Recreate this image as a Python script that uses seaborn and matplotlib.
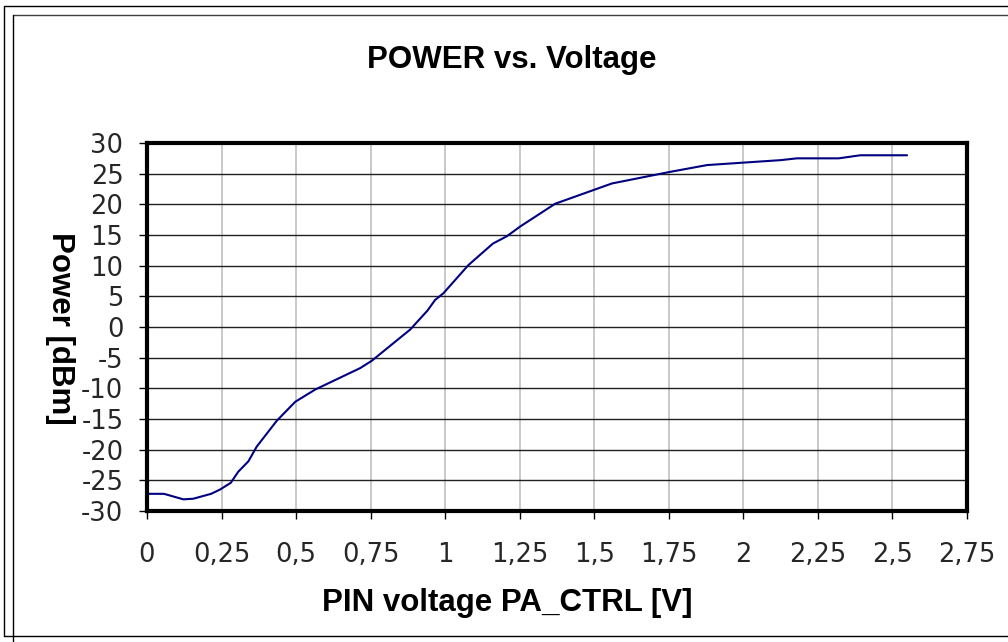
import matplotlib
matplotlib.use("Agg")
import matplotlib.pyplot as plt
import seaborn as sns
import pandas as pd
from matplotlib.lines import Line2D

# ---- data ----
voltage = [0, 0.057, 0.122, 0.155, 0.215, 0.245, 0.281, 0.306, 0.34, 0.368,
           0.435, 0.497, 0.564, 0.715, 0.754, 0.883, 0.941, 0.966, 0.994,
           1.078, 1.16, 1.207, 1.252, 1.369, 1.559, 1.755, 1.878, 2.0,
           2.124, 2.18, 2.32, 2.392, 2.549]
power = [-27.2, -27.2, -28.1, -28.0, -27.2, -26.5, -25.4, -23.6, -21.9, -19.5,
         -15.3, -12.2, -10.2, -6.7, -5.5, -0.4, 2.7, 4.4, 5.5,
         10.1, 13.6, 14.8, 16.4, 20.1, 23.4, 25.3, 26.4, 26.8,
         27.2, 27.5, 27.5, 28.0, 28.0]
x_ticks = [0, 0.25, 0.5, 0.75, 1.0, 1.25, 1.5, 1.75, 2.0, 2.25, 2.5, 2.75]
x_tick_labels = ["0", "0,25", "0,5", "0,75", "1", "1,25", "1,5", "1,75",
                 "2", "2,25", "2,5", "2,75"]
y_ticks = [-30, -25, -20, -15, -10, -5, 0, 5, 10, 15, 20, 25, 30]
title = "POWER vs. Voltage"
x_label = "PIN voltage PA_CTRL [V]"
y_label = "Power [dBm]"

df = pd.DataFrame({"voltage": voltage, "power": power})

sns.set_style("white")
plt.rcParams["font.family"] = ["DejaVu Sans"]

W, H = 1008, 642
fig = plt.figure(figsize=(W / 100, H / 100), dpi=100)
fig.patch.set_facecolor("white")

ax = fig.add_axes([147 / W, 1 - 511 / H, 820 / W, 368 / H])
sns.lineplot(data=df, x="voltage", y="power", ax=ax, color="#000080",
             linewidth=1.5, sort=False, estimator=None, zorder=5)

ax.set_xlim(0, 2.75)
ax.set_ylim(-30, 30)
ax.set_xticks(x_ticks)
ax.set_xticklabels(x_tick_labels)
ax.set_yticks(y_ticks)
ax.set_yticklabels([str(v) for v in y_ticks])

# gridlines
for xv in x_ticks[1:-1]:
    ax.axvline(xv, color="#c0c0c0", linewidth=1.2, zorder=1)
for yv in y_ticks[1:-1]:
    ax.axhline(yv, color="#202020", linewidth=1.0, zorder=2)

for s in ax.spines.values():
    s.set_visible(True)
    s.set_color("black")
    s.set_linewidth(3)
    s.set_zorder(6)

ax.tick_params(axis="both", which="both", direction="out", length=6,
               width=1, color="black", labelsize=18.5,
               bottom=True, left=True, top=False, right=False)
ax.tick_params(axis="x", pad=16.5)
ax.tick_params(axis="y", pad=11)
ax.set_xlabel("")
ax.set_ylabel("")

bold = dict(family="Liberation Sans", weight="bold", size=22.5, color="black")
fig.text(511.5 / W, 1 - 68 / H, title, ha="center", va="baseline", **bold)
fig.text(507.5 / W, 1 - 611 / H, x_label, ha="center", va="baseline", **bold)
fig.text(60 / W, 1 - 328 / H, y_label, ha="center", va="center",
         rotation=-90, **bold)

# outer frames
def fl(x0, y0, x1, y1, color="black", lw=1.0):
    fig.add_artist(Line2D([x0 / W, x1 / W], [1 - y0 / H, 1 - y1 / H],
                          transform=fig.transFigure, color=color, linewidth=lw))

fl(4, 6, W, 6)
fl(4, 6, 4, 636)
fl(4, 636, W, 636)
fl(13, 15, W, 15, color="#404040")
fl(13, 15, 13, H)

fig.savefig("out.png", dpi=100, facecolor="white")
